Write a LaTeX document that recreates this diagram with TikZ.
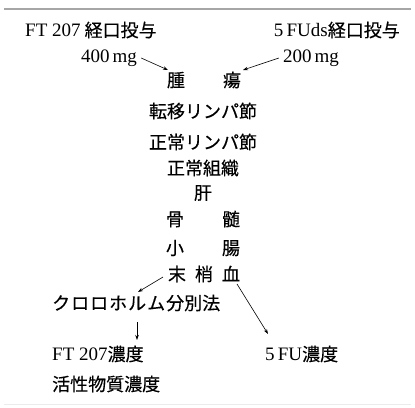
\documentclass[tikz,border=0pt]{standalone}
\usepackage{fontspec}
\setmainfont{Liberation Serif}
\newfontfamily\cjk[FakeBold=0.3]{Noto Sans CJK JP}
\usetikzlibrary{arrows.meta}
\newcommand{\lat}[1]{{\fontsize{19}{20}\selectfont #1}}
\begin{document}
\begin{tikzpicture}[x=1pt,y=-1pt,
  lbl/.style={inner sep=0pt,font=\fontsize{18}{20}\selectfont},
  arr/.style={-{Stealth[length=5pt,width=3.5pt]},line width=0.6pt}]
\useasboundingbox (0,0) rectangle (415,407);
\draw[black!35,line width=1.5pt] (4,9) -- (411,9);
\draw[black!8,line width=1pt] (4,404) -- (411,404);
\node[lbl,anchor=west] (ft) at (25,30) {\lat{FT 207}\hspace{4pt}{\cjk 経口投与}};
\node[lbl,anchor=east] (fu) at (400,30) {\lat{5\,FUds}{\cjk 経口投与}};
\node[lbl] (m400) at (109,58) {\lat{400\,mg}};
\node[lbl] (m200) at (311,58) {\lat{200\,mg}};
\node[lbl] (tumor) at (204,80) {\cjk 腫\hspace{38pt}瘍};
\node[lbl] (meta) at (203,111) {\cjk 転移リンパ節};
\node[lbl] (norm) at (203,142) {\cjk 正常リンパ節};
\node[lbl] (tiss) at (203,168) {\cjk 正常組織};
\node[lbl] (liver) at (203,193) {\cjk 肝};
\node[lbl] (bone) at (203,219) {\cjk 骨\hspace{38pt}髄};
\node[lbl] (intest) at (203,248) {\cjk 小\hspace{38pt}腸};
\node[lbl] (blood) at (204,274) {\cjk 末\hspace{9pt}梢\hspace{9pt}血};
\node[lbl,anchor=west] (chl) at (52,303) {\cjk ク\hspace{1pt}ロ\hspace{1pt}ロ\hspace{1pt}ホ\hspace{1pt}ル\hspace{1pt}ム\hspace{1pt}分別法};
\node[lbl,anchor=west] (ftc) at (52,354) {\lat{FT 207}{\cjk 濃度}};
\node[lbl,anchor=west] (act) at (52,384) {\cjk 活性物質濃度};
\node[lbl,anchor=west] (fuc) at (265,354) {\lat{5\,FU}{\cjk 濃度}};
\coordinate (a1) at (168,70);
\coordinate (a2) at (243,70);
\coordinate (a3) at (138,292);
\coordinate (a4) at (268,334);
\coordinate (b3) at (163,277);
\coordinate (b4) at (237,284);
\draw[arr] (m400.east) ++(4,0) -- (a1);
\draw[arr] (m200.west) ++(-4,0) -- (a2);
\draw[arr] (b3) -- (a3);
\draw[arr] (137,322) -- (137,340);
\draw[arr] (b4) -- (a4);
\end{tikzpicture}
\end{document}
